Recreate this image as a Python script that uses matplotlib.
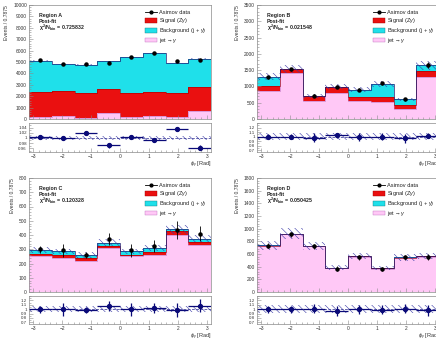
import numpy as np
import matplotlib
matplotlib.use("Agg")
import matplotlib.pyplot as plt
from matplotlib.patches import Patch
from matplotlib.lines import Line2D
from matplotlib.ticker import MultipleLocator, AutoMinorLocator, FormatStrFormatter

plt.rcParams['font.family'] = ['Liberation Sans', 'DejaVu Sans']
plt.rcParams['mathtext.fontset'] = 'custom'
plt.rcParams['mathtext.rm'] = 'Liberation Sans'
plt.rcParams['mathtext.it'] = 'Liberation Sans:italic'
plt.rcParams['mathtext.bf'] = 'Liberation Sans:bold'
plt.rcParams['hatch.linewidth'] = 0.4

# ---------------- data ----------------
edges = np.linspace(-np.pi, np.pi, 9)

regions = ["Region A", "Region B", "Region C", "Region D"]
chi2 = ["0.725832", "0.021548", "0.120328", "0.050425"]

A_jet = [200, 300, 100, 550, 150, 250, 150, 700]
A_sig = [2150, 2150, 2200, 2100, 2150, 2150, 2150, 2100]
A_bkg = [2750, 2350, 2450, 2400, 3100, 3350, 2600, 2500]
A_data = [5150, 4850, 4850, 4950, 5450, 5750, 5050, 5150]
A_data_err = [70, 70, 70, 70, 75, 75, 70, 70]
A_unc = [0.007] * 8
A_ratio = [1.005, 0.999, 1.020, 0.972, 1.005, 0.992, 1.035, 0.962]
A_ratio_err = [0.006, 0.008, 0.006, 0.010, 0.005, 0.005, 0.008, 0.010]

B_jet = [850, 1400, 550, 800, 550, 520, 300, 1300]
B_sig = [150, 120, 150, 180, 140, 160, 130, 180]
B_bkg = [300, 10, 10, 10, 210, 400, 180, 170]
B_data = [1280, 1520, 720, 990, 900, 1090, 610, 1650]
B_data_err = [50, 60, 40, 50, 50, 55, 50, 90]
B_unc = [0.08] * 8
B_ratio = [1.00, 1.00, 0.98, 1.03, 0.99, 1.00, 0.96, 1.02]
B_ratio_err = [0.06, 0.06, 0.10, 0.06, 0.08, 0.07, 0.10, 0.06]

C_jet = [250, 242, 220, 310, 250, 260, 400, 330]
C_sig = [15, 18, 17, 16, 10, 20, 25, 20]
C_bkg = [30, 25, 23, 19, 25, 28, 15, 25]
C_data = [300, 292, 262, 372, 293, 322, 435, 410]
C_data_err = [25, 45, 20, 45, 45, 40, 65, 55]
C_unc = [0.07] * 8
C_ratio = [1.00, 1.00, 0.98, 1.07, 1.00, 1.03, 0.98, 1.08]
C_ratio_err = [0.08, 0.15, 0.07, 0.12, 0.15, 0.12, 0.15, 0.15]

D_jet = [730, 915, 720, 380, 560, 370, 540, 560]
D_sig = [3, 3, 3, 3, 3, 3, 3, 3]
D_bkg = [3, 3, 3, 3, 3, 3, 3, 3]
D_data = [730, 910, 720, 370, 550, 360, 545, 550]
D_data_err = [40, 45, 45, 35, 40, 35, 40, 45]
D_unc = [0.09] * 8
D_ratio = [1.00, 1.00, 1.01, 0.96, 1.00, 0.99, 1.01, 0.97]
D_ratio_err = [0.08, 0.08, 0.10, 0.12, 0.10, 0.10, 0.10, 0.12]

ymax = [10000, 3500, 800, 1800]
ymajor = [1000, 500, 100, 200]
ratio_lim = [(0.945, 1.058), (0.66, 1.3), (0.66, 1.3), (0.66, 1.3)]
ratio_ticks = [[0.96, 0.98, 1.0, 1.02, 1.04], [0.7, 0.8, 0.9, 1.0, 1.1, 1.2],
               [0.7, 0.8, 0.9, 1.0, 1.1, 1.2], [0.7, 0.8, 0.9, 1.0, 1.1, 1.2]]

sets = [
    (A_jet, A_sig, A_bkg, A_data, A_data_err, A_unc, A_ratio, A_ratio_err),
    (B_jet, B_sig, B_bkg, B_data, B_data_err, B_unc, B_ratio, B_ratio_err),
    (C_jet, C_sig, C_bkg, C_data, C_data_err, C_unc, C_ratio, C_ratio_err),
    (D_jet, D_sig, D_bkg, D_data, D_data_err, D_unc, D_ratio, D_ratio_err),
]

c_jet = '#ffc8f6'
c_sig = '#ea1010'
c_bkg = '#1fe0ea'
c_band = '#3a3aa8'
c_frame = '#8a8a8a'

W, H = 436, 342
fig = plt.figure(figsize=(W / 100, H / 100), dpi=100)

lefts = [29, 257, 29, 257]
rows = [(5, 119, 123, 152), (178, 292, 296, 324)]
axw = 182

fs_tick = 3.5
fs_txt = 3.8
fs_leg = 4.1


def px_axes(l, t, b):
    return fig.add_axes([l / W, (H - b) / H, axw / W, (b - t) / H])


def style(ax):
    for s in ax.spines.values():
        s.set_color(c_frame)
        s.set_linewidth(0.5)
    ax.tick_params(which='both', direction='in', colors=c_frame, labelcolor='#333333',
                   labelsize=fs_tick, width=0.4, pad=1.5)
    ax.tick_params(which='major', length=3)
    ax.tick_params(which='minor', length=1.5)
    ax.set_xlim(edges[0], edges[-1])
    ax.xaxis.set_major_locator(MultipleLocator(1))
    ax.xaxis.set_minor_locator(AutoMinorLocator(5))


centers = 0.5 * (edges[:-1] + edges[1:])
halfw = 0.5 * (edges[1] - edges[0])

for i in range(4):
    jet, sig, bkg, data, derr, unc, ratio, rerr = [np.asarray(a, float) for a in sets[i]]
    r = i // 2
    mt, mb, rt, rb = rows[r]
    l = lefts[i]
    ax = px_axes(l, mt, mb)
    axr = px_axes(l, rt, rb)
    style(ax)
    style(axr)

    b1 = jet
    b2 = jet + sig
    b3 = jet + sig + bkg
    ax.stairs(b1, edges, baseline=0, fill=True, color=c_jet, lw=0)
    ax.stairs(b2, edges, baseline=b1, fill=True, color=c_sig, lw=0)
    ax.stairs(b3, edges, baseline=b2, fill=True, color=c_bkg, lw=0)
    ax.stairs(b1, edges, baseline=None, color='#c070c0', lw=0.4)
    ax.stairs(b2, edges, baseline=None, color='#a00000', lw=0.4)
    ax.stairs(b3, edges, baseline=None, color='#1a1a70', lw=0.5)
    unc_abs = b3 * unc
    ax.stairs(b3 + unc_abs, edges, baseline=b3 - unc_abs, fill=True,
              facecolor='none', edgecolor=c_band, hatch='\\\\\\\\\\', lw=0)
    ax.errorbar(centers, data, yerr=derr, fmt='o', color='black', ms=2.2,
                elinewidth=0.6, capsize=0)
    ax.set_ylim(0, ymax[i])
    ax.yaxis.set_major_locator(MultipleLocator(ymajor[i]))
    ax.yaxis.set_minor_locator(AutoMinorLocator(5))
    ax.tick_params(axis='x', labelbottom=False)
    ax.set_ylabel('Events / 0.7875', fontsize=3.6, loc='top', labelpad=3, color='#333333')

    ax.text(0.055, 0.905, regions[i], transform=ax.transAxes, fontsize=fs_txt,
            fontweight='bold', va='center', color='#222222')
    ax.text(0.055, 0.855, 'Post-fit', transform=ax.transAxes, fontsize=fs_txt,
            fontweight='bold', va='center', color='#222222')
    ax.text(0.055, 0.80, r'$\mathbf{\chi^2/N_{bin}}$ = ' + chi2[i], transform=ax.transAxes,
            fontsize=fs_txt, fontweight='bold', va='center', color='#222222')

    handles = [
        Line2D([], [], color='black', marker='o', ms=2.0, lw=0.6),
        Patch(facecolor=c_sig, edgecolor='#a00000', lw=0.3),
        Patch(facecolor=c_bkg, edgecolor='#1a7a80', lw=0.3),
        Patch(facecolor=c_jet, edgecolor='#c070c0', lw=0.3),
    ]
    labels = ['Asimov data', r'Signal (Z$\gamma$)', r'Background (j + $\gamma$)',
              r'jet$\rightarrow\gamma$']
    ax.legend(handles, labels, loc='upper left', bbox_to_anchor=(0.64, 0.955),
              frameon=False, fontsize=fs_leg, handlelength=2.0, handleheight=0.9,
              handletextpad=0.4, labelspacing=0.15, borderpad=0, borderaxespad=0,
              labelcolor='#222222')

    rlo, rhi = ratio_lim[i]
    axr.stairs(1 + unc, edges, baseline=1 - unc, fill=True,
               facecolor='none', edgecolor=c_band, hatch='\\\\\\\\\\', lw=0)
    axr.axhline(1.0, color='#2a2a90', lw=0.5, ls=(0, (4, 2)))
    axr.errorbar(centers, ratio, yerr=rerr, xerr=halfw, fmt='o', color='#0a0a78',
                 ms=2.8, elinewidth=0.9, capsize=0)
    axr.set_ylim(rlo, rhi)
    axr.set_yticks(ratio_ticks[i])
    axr.yaxis.set_major_formatter(FormatStrFormatter('%g'))
    axr.yaxis.set_minor_locator(AutoMinorLocator(2))
    axr.tick_params(axis='y', labelsize=3.2)
    axr.set_xlabel(r'$\phi_{\gamma}$ [Rad]', fontsize=4.0, loc='right', labelpad=0.2,
                   color='#333333')

fig.savefig('out.png', dpi=100)
